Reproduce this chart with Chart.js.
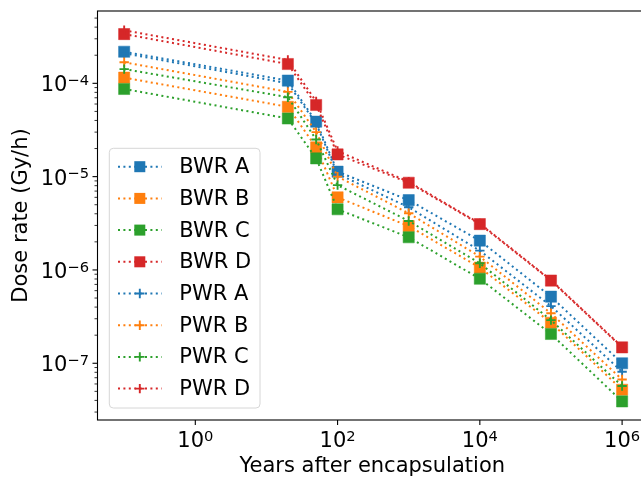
<!DOCTYPE html>
<html><head><meta charset="utf-8">
<script src="https://cdn.jsdelivr.net/npm/chart.js@4"></script>
<style>html,body{margin:0;padding:0;overflow:hidden;background:#fff}</style>
</head><body>
<canvas id="c" width="660" height="481"></canvas>
<script>
// ---- data ----
const years = [0.1, 20, 50, 100, 1000, 10000, 100000, 1000000];
const bwrA = [2.18e-4, 1.07e-4, 3.88e-5, 1.13e-5, 5.6e-6, 2.06e-6, 5.17e-7, 1.0e-7];
const bwrB = [1.15e-4, 5.6e-5, 2.06e-5, 6.0e-6, 2.95e-6, 1.06e-6, 2.72e-7, 5.2e-8];
const bwrC = [8.7e-5, 4.2e-5, 1.57e-5, 4.47e-6, 2.24e-6, 8.05e-7, 2.06e-7, 3.9e-8];
const bwrD = [3.37e-4, 1.61e-4, 5.86e-5, 1.73e-5, 8.6e-6, 3.1e-6, 7.7e-7, 1.48e-7];
const pwrA = [2.1e-4, 1.0e-4, 3.7e-5, 1.07e-5, 4.69e-6, 1.61e-6, 4.1e-7, 8.1e-8];
const pwrB = [1.68e-4, 8.1e-5, 3.0e-5, 1.0e-5, 4.05e-6, 1.39e-6, 3.43e-7, 6.7e-8];
const pwrC = [1.42e-4, 7.1e-5, 2.5e-5, 8.1e-6, 3.35e-6, 1.18e-6, 2.9e-7, 5.7e-8];
const pwrD = [3.7e-4, 1.78e-4, 6.4e-5, 1.88e-5, 8.8e-6, 3.15e-6, 7.8e-7, 1.5e-7];
const seriesLabels = ['BWR A','BWR B','BWR C','BWR D','PWR A','PWR B','PWR C','PWR D'];
const seriesValues = [bwrA, bwrB, bwrC, bwrD, pwrA, pwrB, pwrC, pwrD];
const xMajorTicks = [1, 1e2, 1e4, 1e6];
const yMajorTicks = [1e-7, 1e-6, 1e-5, 1e-4];
const xTitle = 'Years after encapsulation';
const yTitle = 'Dose rate (Gy/h)';

// ---- styling ----
const palette = ['#1f77b4', '#ff7f0e', '#2ca02c', '#d62728'];
const FONT = 'DejaVu Sans';
const FS = 21;
const X_MIN = Math.pow(10, -1.375), X_MAX = Math.pow(10, 6.35);
const Y_MIN = Math.pow(10, -7.608), Y_MAX = Math.pow(10, -3.225);

function isPow10(v){ const l = Math.log10(v); return Math.abs(l - Math.round(l)) < 1e-9; }

const yMinorTicks = [];
for (let e = -9; e <= -3; e++) for (let m = 2; m <= 9; m++) {
  const v = m * Math.pow(10, e);
  if (v >= Y_MIN && v <= Y_MAX) yMinorTicks.push(v);
}

const datasets = seriesValues.map((vals, i) => {
  const col = palette[i % 4];
  const isB = i < 4;
  return {
    label: seriesLabels[i],
    data: years.map((x, j) => ({x: x, y: vals[j]})),
    borderColor: col,
    backgroundColor: col,
    borderWidth: 2,
    borderDash: [2, 3.4],
    borderCapStyle: 'butt',
    pointStyle: isB ? 'rect' : 'cross',
    pointRadius: isB ? 7.9 : 4.7,
    pointBorderWidth: isB ? 0.5 : 1.9,
    pointBorderColor: col,
    pointBackgroundColor: col,
    pointHoverRadius: isB ? 7.9 : 4.7,
    tension: 0,
    fill: false,
    order: seriesValues.length - i
  };
});

function drawPow(ctx, v, x, baseline, align) {
  const e = Math.round(Math.log10(v));
  const base = '10', ex = String(e).replace('-', '\u2212');
  ctx.font = FS + 'px "' + FONT + '"';
  const wb = ctx.measureText(base).width;
  ctx.font = (FS * 0.7) + 'px "' + FONT + '"';
  const we = ctx.measureText(ex).width;
  const total = wb + we;
  const sx = align === 'right' ? x - total : x - total / 2;
  ctx.textAlign = 'left';
  ctx.textBaseline = 'alphabetic';
  ctx.fillStyle = '#000';
  ctx.font = FS + 'px "' + FONT + '"';
  ctx.fillText(base, sx, baseline);
  ctx.font = (FS * 0.7) + 'px "' + FONT + '"';
  ctx.fillText(ex, sx + wb, baseline - 6.3);
}

const decorPlugin = {
  id: 'decor',
  afterDraw(chart) {
    const ctx = chart.ctx, a = chart.chartArea;
    const xs = chart.scales.x, ys = chart.scales.y;
    ctx.save();
    // frame
    ctx.strokeStyle = '#000';
    ctx.lineWidth = 1.1;
    ctx.strokeRect(a.left, a.top, a.right - a.left, a.bottom - a.top);
    // y ticks + labels
    yMajorTicks.forEach(v => {
      const p = ys.getPixelForValue(v);
      ctx.strokeStyle = '#000';
      ctx.lineWidth = 1.1;
      ctx.beginPath(); ctx.moveTo(a.left - 5, p); ctx.lineTo(a.left, p); ctx.stroke();
      drawPow(ctx, v, a.left - 8.5, p + 8, 'right');
    });
    yMinorTicks.forEach(v => {
      const p = ys.getPixelForValue(v);
      ctx.strokeStyle = '#000';
      ctx.lineWidth = 0.8;
      ctx.beginPath(); ctx.moveTo(a.left - 3, p); ctx.lineTo(a.left, p); ctx.stroke();
    });
    xMajorTicks.forEach(v => {
      const p = xs.getPixelForValue(v);
      ctx.strokeStyle = '#000';
      ctx.lineWidth = 1.1;
      ctx.beginPath(); ctx.moveTo(p, a.bottom); ctx.lineTo(p, a.bottom + 5); ctx.stroke();
      drawPow(ctx, v, p, a.bottom + 27, 'center');
    });
    // legend
    const lx = 109.3, ly = 148.3, lw = 150.7, lh = 259.7, r = 4;
    ctx.beginPath();
    ctx.moveTo(lx + r, ly); ctx.lineTo(lx + lw - r, ly); ctx.quadraticCurveTo(lx + lw, ly, lx + lw, ly + r);
    ctx.lineTo(lx + lw, ly + lh - r); ctx.quadraticCurveTo(lx + lw, ly + lh, lx + lw - r, ly + lh);
    ctx.lineTo(lx + r, ly + lh); ctx.quadraticCurveTo(lx, ly + lh, lx, ly + lh - r);
    ctx.lineTo(lx, ly + r); ctx.quadraticCurveTo(lx, ly, lx + r, ly);
    ctx.closePath();
    ctx.fillStyle = 'rgba(255,255,255,0.8)';
    ctx.fill();
    ctx.strokeStyle = '#d6d6d6';
    ctx.lineWidth = 1;
    ctx.stroke();
    chart.data.datasets.forEach((ds, i) => {
      const y = 166.7 + i * 31.7;
      ctx.strokeStyle = ds.borderColor;
      ctx.lineWidth = 2;
      ctx.setLineDash([2, 3.4]);
      ctx.beginPath(); ctx.moveTo(118, y); ctx.lineTo(161.7, y); ctx.stroke();
      ctx.setLineDash([]);
      const cx = 139.8;
      if (ds.pointStyle === 'rect') {
        const s = 11;
        ctx.fillStyle = ds.backgroundColor;
        ctx.fillRect(cx - s / 2, y - s / 2, s, s);
      } else {
        const h = 4.7;
        ctx.lineWidth = 1.9;
        ctx.beginPath();
        ctx.moveTo(cx - h, y); ctx.lineTo(cx + h, y);
        ctx.moveTo(cx, y - h); ctx.lineTo(cx, y + h);
        ctx.stroke();
      }
      ctx.fillStyle = '#000';
      ctx.font = FS + 'px "' + FONT + '"';
      ctx.textAlign = 'left';
      ctx.textBaseline = 'middle';
      ctx.fillText(ds.label, 179.3, y + 1);
    });
    ctx.restore();
  }
};

new Chart(document.getElementById('c'), {
  type: 'line',
  data: { datasets: datasets },
  options: {
    responsive: false,
    animation: false,
    layout: { padding: { left: 0, top: 11, right: 13, bottom: 0 } },
    plugins: { legend: { display: false }, tooltip: { enabled: false } },
    scales: {
      x: {
        type: 'logarithmic',
        min: X_MIN, max: X_MAX,
        grid: { display: false },
        border: { display: false },
        afterBuildTicks: s => { s.ticks = xMajorTicks.map(v => ({ value: v, major: true })); },
        afterFit: s => { s.height = 61; s.paddingLeft = 0; s.paddingRight = 0; s.paddingTop = 0; s.paddingBottom = 0; },
        ticks: { display: false },
        title: { display: true, text: xTitle, color: '#000', font: { family: FONT, size: FS }, padding: { top: 0, bottom: 1.4 } }
      },
      y: {
        type: 'logarithmic',
        min: Y_MIN, max: Y_MAX,
        grid: { display: false },
        border: { display: false },
        afterBuildTicks: s => { s.ticks = yMajorTicks.concat(yMinorTicks).sort((a, b) => a - b).map(v => ({ value: v, major: isPow10(v) })); },
        afterFit: s => { s.width = 97.5; s.paddingLeft = 0; s.paddingRight = 0; s.paddingTop = 0; s.paddingBottom = 0; },
        ticks: { display: false },
        title: { display: true, text: yTitle, color: '#000', font: { family: FONT, size: FS }, padding: { top: 9.4, bottom: 0 } }
      }
    }
  },
  plugins: [decorPlugin]
});
</script>
</body></html>
